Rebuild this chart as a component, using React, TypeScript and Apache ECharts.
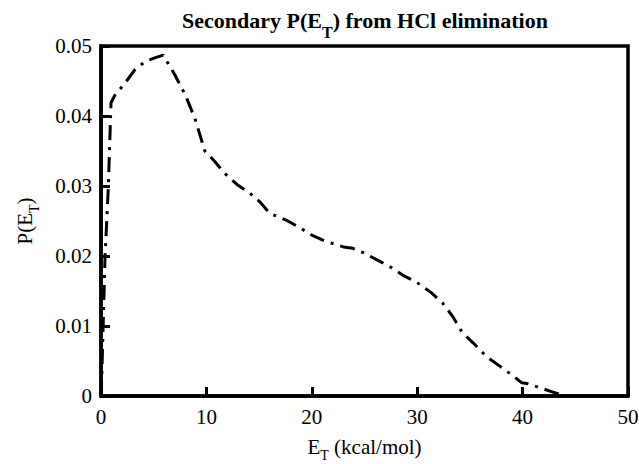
import React, { useEffect, useRef } from "react";
import * as echarts from "echarts";

const energy = [0, 0.07, 0.38, 0.7, 0.95, 1.33, 2.28, 3.2, 4.2, 5.1, 5.9, 7.0, 8.0, 8.9, 9.85, 10.8, 11.6, 13.0, 14.1, 15.1, 16.0, 17.6, 18.9, 20.1, 21.3, 23.0, 23.9, 25.0, 26.5, 27.6, 28.7, 30.0, 31.3, 32.4, 33.4, 34.3, 35.3, 36.6, 37.8, 39.0, 39.9, 40.4, 41.4, 42.8, 43.8, 45, 50];
const probability = [0, 0.0026, 0.0197, 0.03, 0.0419, 0.043, 0.0447, 0.0466, 0.0478, 0.0483, 0.0487, 0.0459, 0.043, 0.0397, 0.035, 0.0335, 0.032, 0.0301, 0.029, 0.0277, 0.0261, 0.0251, 0.024, 0.0229, 0.0221, 0.0213, 0.0211, 0.0204, 0.0192, 0.0183, 0.0172, 0.0162, 0.0148, 0.0133, 0.0113, 0.009, 0.0076, 0.0056, 0.0043, 0.003, 0.0019, 0.0018, 0.0013, 0.0006, 0.0001, 0, 0];
const xTicks = [0, 10, 20, 30, 40, 50];
const yTicks = [0, 0.01, 0.02, 0.03, 0.04, 0.05];

const FONT = "Liberation Serif";

export default function App() {
  const ref = useRef<HTMLDivElement>(null);
  useEffect(() => {
    if (!ref.current) return;
    const chart = echarts.init(ref.current, undefined, { renderer: "svg" });
    const axisLine = { show: true, lineStyle: { color: "#000", width: 3.5 } };
    const labelRich = { t: { fontFamily: FONT, fontSize: 21, color: "#000" } };
    chart.setOption({
      animation: false,
      backgroundColor: "#fff",
      textStyle: { fontFamily: FONT, color: "#000" },
      title: {
        text: "{n|Secondary P(E}{s|T}{n|) from HCl elimination}",
        left: 365,
        top: 0,
        padding: 0,
        textAlign: "center",
        textStyle: {
          fontFamily: FONT,
          rich: {
            n: { fontFamily: FONT, fontWeight: "bold", fontSize: 22, color: "#000" },
            s: { fontFamily: FONT, fontWeight: "bold", fontSize: 16, color: "#000", padding: [24, 0, 0, 0] },
          },
        },
      },
      grid: {
        left: 101,
        right: 11,
        top: 46,
        bottom: 68,
        containLabel: false,
        outerBoundsMode: "none",
        show: true,
        borderColor: "#000",
        borderWidth: 3.5,
        backgroundColor: "transparent",
      },
      xAxis: {
        type: "value",
        min: xTicks[0],
        max: xTicks[xTicks.length - 1],
        interval: 10,
        axisLine,
        axisTick: { show: true, inside: true, length: 9, lineStyle: { color: "#000", width: 3 } },
        splitLine: { show: false },
        axisLabel: {
          color: "#000",
          fontFamily: FONT,
          fontSize: 21,
          margin: 10,
          formatter: (v: number) => `{t|${v}}`,
          rich: labelRich,
        },
        name: "{n|E}{s|T}{n| (kcal/mol)}",
        nameLocation: "middle",
        nameGap: 35,
        nameTextStyle: {
          fontFamily: FONT,
          rich: {
            n: { fontFamily: FONT, fontSize: 21, color: "#000" },
            s: { fontFamily: FONT, fontSize: 14, color: "#000", padding: [17, 0, 0, 0] },
          },
        },
      },
      yAxis: {
        type: "value",
        min: yTicks[0],
        max: yTicks[yTicks.length - 1],
        interval: 0.01,
        axisLine,
        axisTick: { show: true, inside: true, length: 9, lineStyle: { color: "#000", width: 3 } },
        splitLine: { show: false },
        axisLabel: {
          color: "#000",
          fontFamily: FONT,
          fontSize: 21,
          margin: 9,
          formatter: (v: number) => `{t|${v === 0 ? "0" : v.toFixed(2)}}`,
          rich: labelRich,
        },
        name: "{n|P(E}{s|T}{n|)}",
        nameLocation: "middle",
        nameRotate: 90,
        nameGap: 60,
        nameTextStyle: {
          fontFamily: FONT,
          rich: {
            n: { fontFamily: FONT, fontSize: 21, color: "#000" },
            s: { fontFamily: FONT, fontSize: 14, color: "#000", padding: [18, 0, 0, 0] },
          },
        },
      },
      series: [
        {
          type: "line",
          data: energy.map((e, i) => [e, probability[i]]),
          showSymbol: false,
          smooth: false,
          lineStyle: { color: "#000", width: 3, type: [15, 7, 3, 7] },
        },
      ],
    });
    return () => chart.dispose();
  }, []);
  return <div ref={ref} style={{ width: 639, height: 464, position: "absolute", left: 0, top: 0 }} />;
}
